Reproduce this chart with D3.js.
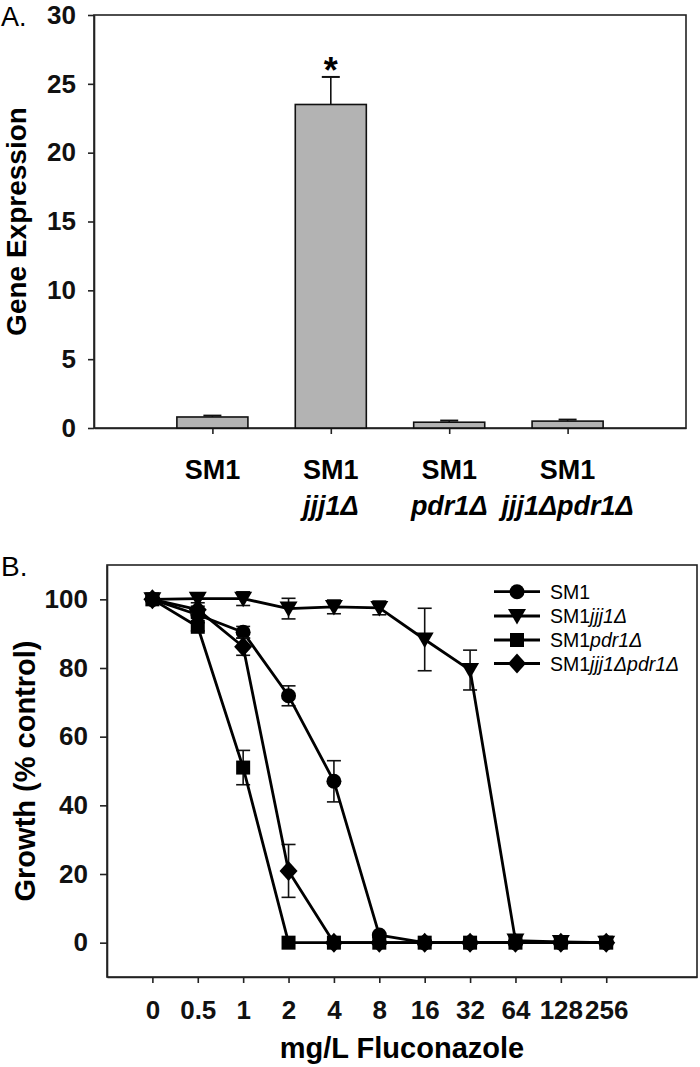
<!DOCTYPE html>
<html>
<head>
<meta charset="utf-8">
<script src="https://cdn.jsdelivr.net/npm/d3@7"></script>
<style>
  html, body { margin: 0; padding: 0; background: #fff; }
  svg { display: block; font-family: "Liberation Sans", Arial, sans-serif; }
</style>
</head>
<body>
<svg id="chart" width="700" height="1067"></svg>
<script>
// ---------- Panel A data ----------
const strainLine1 = ["SM1", "SM1", "SM1", "SM1"];
const strainLine2 = ["", "jjj1Δ", "pdr1Δ", "jjj1Δpdr1Δ"];
const expression = [0.8, 23.5, 0.42, 0.5];
const expressionErr = [0.1, 2.0, 0.12, 0.11];
const significant = [false, true, false, false];
const expressionTicks = [0, 5, 10, 15, 20, 25, 30];

// ---------- Panel B data ----------
const concentrations = ["0", "0.5", "1", "2", "4", "8", "16", "32", "64", "128", "256"];
const sm1 = [100, 95.5, 90.4, 71.9, 47.0, 2.2, 0, 0, 0, 0, 0];
const sm1Err = [0.5, 1, 1.7, 2.9, 6.0, 0.5, 0, 0, 0, 0, 0];
const jjj1 = [100, 100.2, 100.2, 97.3, 97.8, 97.5, 88.3, 79.4, 0.6, 0.2, 0];
const jjj1Err = [0.5, 1.2, 2.0, 3.0, 2.0, 2.0, 9.1, 5.8, 0.3, 0, 0];
const pdr1 = [100, 92, 51, 0, 0, 0, 0, 0, 0, 0, 0];
const pdr1Err = [0.5, 1.2, 5.0, 0, 0, 0, 0, 0, 0, 0, 0];
const dbl = [100, 97, 86.2, 20.9, 0, 0, 0, 0, 0, 0, 0];
const dblErr = [0.5, 1.0, 2.5, 7.7, 0, 0, 0, 0, 0, 0, 0];
const growthTicks = [0, 20, 40, 60, 80, 100];
const seriesNames = ["SM1", "SM1jjj1Δ", "SM1pdr1Δ", "SM1jjj1Δpdr1Δ"];

const svg = d3.select("#chart");
const BOLD = "bold";
const TICK_FS = 26;

// ================= Panel A =================
const A = { l: 94, r: 686, t: 15, b: 428 };
const xA = d3.scalePoint().domain(d3.range(strainLine1.length)).range([A.l, A.r]).padding(1);
const yA = d3.scaleLinear().domain([0, 30]).range([A.b, A.t]);
const gA = svg.append("g");

svg.append("text").attr("x", 1).attr("y", 26).attr("font-size", 27).text("A.");

// frame
gA.append("rect").attr("x", A.l).attr("y", A.t).attr("width", A.r - A.l).attr("height", A.b - A.t)
  .attr("fill", "none").attr("stroke", "#222").attr("stroke-width", 1.6);

// y axis
const yAxisA = gA.append("g").attr("transform", `translate(${A.l},0)`)
  .call(d3.axisLeft(yA).tickValues(expressionTicks).tickSize(6).tickSizeOuter(0).tickPadding(12));
yAxisA.select(".domain").attr("stroke", "#222").attr("stroke-width", 1.6);
yAxisA.selectAll(".tick line").attr("stroke", "#222").attr("stroke-width", 1.6);
yAxisA.selectAll(".tick text").attr("font-size", TICK_FS).attr("font-weight", BOLD).attr("fill", "#111")
  .attr("font-family", "Liberation Sans, Arial, sans-serif");

// x axis ticks
const xAxisA = gA.append("g").attr("transform", `translate(0,${A.b})`)
  .call(d3.axisBottom(xA).tickSize(6).tickSizeOuter(0).tickFormat(() => ""));
xAxisA.select(".domain").attr("stroke", "#222").attr("stroke-width", 1.6);
xAxisA.selectAll(".tick line").attr("stroke", "#222").attr("stroke-width", 1.6);

// bars
const bw = xA.step() * 0.6;
gA.selectAll("rect.bar").data(expression).enter().append("rect").attr("class", "bar")
  .attr("x", (d, i) => xA(i) - bw / 2).attr("y", d => yA(d))
  .attr("width", bw).attr("height", d => yA(0) - yA(d))
  .attr("fill", "#b3b3b3").attr("stroke", "#111").attr("stroke-width", 1.6);

// error bars (upper only)
const capA = 18;
expression.forEach((v, i) => {
  const x = xA(i);
  gA.append("line").attr("x1", x).attr("x2", x).attr("y1", yA(v)).attr("y2", yA(v + expressionErr[i]))
    .attr("stroke", "#111").attr("stroke-width", 1.6);
  gA.append("line").attr("x1", x - capA / 2).attr("x2", x + capA / 2)
    .attr("y1", yA(v + expressionErr[i])).attr("y2", yA(v + expressionErr[i]))
    .attr("stroke", "#111").attr("stroke-width", 2);
  if (significant[i]) {
    gA.append("text").attr("x", x).attr("y", yA(v + expressionErr[i]) + 6)
      .attr("text-anchor", "middle").attr("font-size", 36).attr("font-weight", BOLD).text("*");
  }
});

// category labels
strainLine1.forEach((s, i) => {
  gA.append("text").attr("x", xA(i)).attr("y", 479).attr("text-anchor", "middle")
    .attr("font-size", 27).attr("font-weight", BOLD).text(s);
  if (strainLine2[i]) {
    gA.append("text").attr("x", xA(i)).attr("y", 515).attr("text-anchor", "middle")
      .attr("font-size", 27).attr("font-weight", BOLD).attr("font-style", "italic").text(strainLine2[i]);
  }
});

// y title
gA.append("text").attr("transform", `translate(26,${(A.t + A.b) / 2}) rotate(-90)`)
  .attr("text-anchor", "middle").attr("font-size", 28).attr("font-weight", BOLD).text("Gene Expression");

// ================= Panel B =================
const B = { l: 107, r: 697, t: 565, b: 977 };
const xB = d3.scaleLinear().domain([-1, 12]).range([B.l, B.r]);
const yB = d3.scaleLinear().domain([-10, 110]).range([B.b, B.t]);
const gB = svg.append("g");

svg.append("text").attr("x", 1).attr("y", 576).attr("font-size", 28).text("B.");

gB.append("rect").attr("x", B.l).attr("y", B.t).attr("width", B.r - B.l).attr("height", B.b - B.t)
  .attr("fill", "none").attr("stroke", "#222").attr("stroke-width", 1.6);

const yAxisB = gB.append("g").attr("transform", `translate(${B.l},0)`)
  .call(d3.axisLeft(yB).tickValues(growthTicks).tickSize(7).tickSizeOuter(0).tickPadding(12));
yAxisB.select(".domain").attr("stroke", "#222").attr("stroke-width", 1.6);
yAxisB.selectAll(".tick line").attr("stroke", "#222").attr("stroke-width", 1.6);
yAxisB.selectAll(".tick text").attr("font-size", TICK_FS).attr("font-weight", BOLD).attr("fill", "#111")
  .attr("font-family", "Liberation Sans, Arial, sans-serif");

const xAxisB = gB.append("g").attr("transform", `translate(0,${B.b})`)
  .call(d3.axisBottom(xB).tickValues(d3.range(concentrations.length)).tickFormat(i => concentrations[i])
    .tickSize(6).tickSizeOuter(0).tickPadding(18));
xAxisB.select(".domain").attr("stroke", "#222").attr("stroke-width", 1.6);
xAxisB.selectAll(".tick line").attr("stroke", "#222").attr("stroke-width", 1.6);
xAxisB.selectAll(".tick text").attr("font-size", TICK_FS).attr("font-weight", BOLD).attr("fill", "#111")
  .attr("font-family", "Liberation Sans, Arial, sans-serif");

gB.append("text").attr("x", (B.l + B.r) / 2).attr("y", 1058).attr("text-anchor", "middle")
  .attr("font-size", 29).attr("font-weight", BOLD).text("mg/L Fluconazole");
gB.append("text").attr("transform", `translate(35,${(B.t + B.b) / 2}) rotate(-90)`)
  .attr("text-anchor", "middle").attr("font-size", 29).attr("font-weight", BOLD).text("Growth (% control)");

// marker shapes
const shapes = {
  circle: (g) => g.append("circle").attr("r", 7.5),
  triDown: (g) => g.append("path").attr("d", "M-9,-7L9,-7L0,8.5Z"),
  square: (g) => g.append("rect").attr("x", -7).attr("y", -7).attr("width", 14).attr("height", 14),
  diamond: (g) => g.append("path").attr("d", "M0,-10L9,0L0,10L-9,0Z")
};

const series = [
  { vals: sm1, err: sm1Err, shape: "circle" },
  { vals: jjj1, err: jjj1Err, shape: "triDown" },
  { vals: pdr1, err: pdr1Err, shape: "square" },
  { vals: dbl, err: dblErr, shape: "diamond" }
];

const line = d3.line().x((d, i) => xB(i)).y(d => yB(d));
const capB = 14;
series.forEach(s => {
  const g = gB.append("g");
  s.vals.forEach((v, i) => {
    if (s.err[i] > 0.4) {
      const x = xB(i);
      g.append("line").attr("x1", x).attr("x2", x).attr("y1", yB(v - s.err[i])).attr("y2", yB(v + s.err[i]))
        .attr("stroke", "#111").attr("stroke-width", 1.6);
      [v - s.err[i], v + s.err[i]].forEach(e => {
        g.append("line").attr("x1", x - capB / 2).attr("x2", x + capB / 2).attr("y1", yB(e)).attr("y2", yB(e))
          .attr("stroke", "#111").attr("stroke-width", 1.6);
      });
    }
  });
  g.append("path").datum(s.vals).attr("d", line).attr("fill", "none").attr("stroke", "#000")
    .attr("stroke-width", 2.8).attr("stroke-linejoin", "round");
  s.vals.forEach((v, i) => {
    const m = g.append("g").attr("transform", `translate(${xB(i)},${yB(v)})`).attr("fill", "#000");
    shapes[s.shape](m);
  });
});

// legend
const legY = [591.7, 616, 640, 663.5];
series.forEach((s, k) => {
  const g = gB.append("g").attr("transform", `translate(0,${legY[k]})`);
  g.append("line").attr("x1", 494).attr("x2", 540).attr("y1", 0).attr("y2", 0).attr("stroke", "#000").attr("stroke-width", 2.8);
  const m = g.append("g").attr("transform", "translate(517,0)").attr("fill", "#000");
  shapes[s.shape](m);
  const t = g.append("text").attr("x", 550).attr("y", 7).attr("font-size", 19.5);
  const name = seriesNames[k];
  t.append("tspan").text("SM1");
  if (name.length > 3) t.append("tspan").attr("font-style", "italic").text(name.slice(3));
});
</script>
</body>
</html>
